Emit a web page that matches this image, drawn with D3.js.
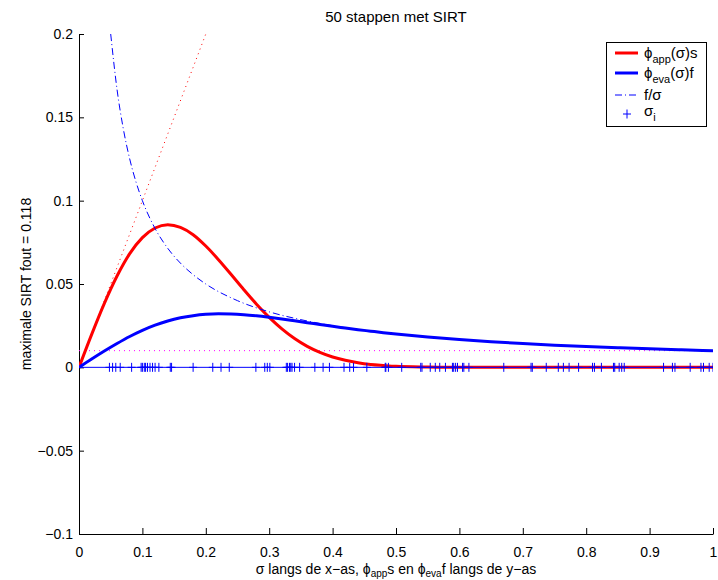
<!DOCTYPE html>
<html>
<head>
<meta charset="utf-8">
<script src="https://cdnjs.cloudflare.com/ajax/libs/d3/7.8.5/d3.min.js"></script>
<style>
body { margin: 0; background: #fff; }
text { font-family: "Liberation Sans", Arial, Helvetica, sans-serif; }
</style>
</head>
<body>
<script>
// values
var sigmaGrid = [0, 0.02, 0.04, 0.06, 0.08, 0.10, 0.12, 0.14, 0.16, 0.18, 0.20, 0.22, 0.24, 0.26, 0.28, 0.30,
                 0.32, 0.34, 0.36, 0.38, 0.40, 0.42, 0.44, 0.46, 0.48, 0.50, 0.55, 0.60, 0.65, 0.70, 0.75,
                 0.80, 0.85, 0.90, 0.95, 1.00];
var phiAppS = [0, 0.0198, 0.0384, 0.0548, 0.0682, 0.0778, 0.0836, 0.0856, 0.0840, 0.0796, 0.0728, 0.0646,
               0.0557, 0.0466, 0.0379, 0.0300, 0.0231, 0.0173, 0.0126, 0.0090, 0.0062, 0.0042, 0.0027,
               0.0017, 0.0011, 0.0006, 0.0002, 0, 0, 0, 0, 0, 0, 0, 0, 0];
var phiEvaF = [0, 0.0050, 0.0098, 0.0143, 0.0185, 0.0222, 0.0253, 0.0278, 0.0297, 0.0310, 0.0318, 0.0321,
               0.0320, 0.0316, 0.0309, 0.0300, 0.0290, 0.0279, 0.0268, 0.0257, 0.0246, 0.0236, 0.0226,
               0.0217, 0.0208, 0.0200, 0.0182, 0.0167, 0.0154, 0.0143, 0.0133, 0.0125, 0.0118, 0.0111,
               0.0105, 0.0100];
var fSigmaX = [0.05, 0.06, 0.07, 0.08, 0.09, 0.10, 0.12, 0.14, 0.16, 0.18, 0.20, 0.25, 0.30, 0.35, 0.40,
               0.50, 0.60, 0.70, 0.80, 0.90, 1.00];
var fSigmaY = [0.200, 0.1667, 0.1429, 0.125, 0.1111, 0.100, 0.0833, 0.0714, 0.0625, 0.0556, 0.050, 0.040,
               0.0333, 0.0286, 0.025, 0.020, 0.0167, 0.0143, 0.0125, 0.0111, 0.010];
var sLineX = [0, 0.1, 0.2];
var sLineY = [0, 0.1, 0.2];
var noiseX = [0, 1];
var noiseY = [0.01, 0.01];
var sigmaI = [0.048, 0.053, 0.058, 0.065, 0.083, 0.098, 0.100, 0.103, 0.105, 0.108, 0.112, 0.116, 0.120,
              0.126, 0.144, 0.146, 0.180, 0.211, 0.224, 0.237, 0.279, 0.293, 0.297, 0.301, 0.327, 0.329,
              0.332, 0.334, 0.336, 0.340, 0.348, 0.372, 0.385, 0.395, 0.418, 0.427, 0.433, 0.454, 0.483,
              0.484, 0.488, 0.509, 0.539, 0.541, 0.554, 0.562, 0.569, 0.578, 0.589, 0.591, 0.594, 0.597,
              0.605, 0.607, 0.615, 0.670, 0.713, 0.715, 0.737, 0.756, 0.764, 0.773, 0.788, 0.810, 0.813,
              0.824, 0.843, 0.845, 0.852, 0.856, 0.860, 0.922, 0.936, 0.940, 0.964, 0.981, 0.985, 0.994, 1.000];
var xTicks = [0, 0.1, 0.2, 0.3, 0.4, 0.5, 0.6, 0.7, 0.8, 0.9, 1];
var yTicks = [-0.1, -0.05, 0, 0.05, 0.1, 0.15, 0.2];

var width = 718;
var height = 580;
var margin = {top: 34, left: 79, right: 5, bottom: 46};

var svg = d3.select("body")
        .append("svg")
        .attr("width", width)
        .attr("height", height);

var xScale = d3.scaleLinear()
           .domain([0, 1])
           .range([margin.left, width - margin.right]);

var yScale = d3.scaleLinear()
           .domain([-0.1, 0.2])
           .range([height - margin.bottom, margin.top]);

svg.append("clipPath").attr("id", "plotArea")
   .append("rect")
   .attr("x", margin.left).attr("y", margin.top)
   .attr("width", width - margin.left - margin.right)
   .attr("height", height - margin.top - margin.bottom);

// axes, ticks pointing inwards like matlab
var xAxis = svg.append("g")
           .attr("transform", `translate(0,${height - margin.bottom})`)
           .call(d3.axisBottom(xScale).tickValues(xTicks).tickSizeInner(-6).tickSizeOuter(0)
                 .tickPadding(13).tickFormat(d3.format("")));

var yAxis = svg.append("g")
           .attr("transform", `translate(${margin.left},0)`)
           .call(d3.axisLeft(yScale).tickValues(yTicks).tickSizeInner(-5).tickSizeOuter(0)
                 .tickPadding(6).tickFormat(function(d) { return d3.format("")(d).replace("-", "\u2212"); }));

svg.selectAll("g.tick text").attr("font-size", 14).attr("fill", "#000")
   .attr("font-family", '"Liberation Sans", Arial, sans-serif');
svg.selectAll(".domain, .tick line").attr("stroke", "#000");

var plot = svg.append("g").attr("clip-path", "url(#plotArea)");

var line = d3.line()
           .x(function(d) { return xScale(d[0]); })
           .y(function(d) { return yScale(d[1]); })
           .curve(d3.curveMonotoneX);

function pairs(xs, ys) { return xs.map(function(x, i) { return [x, ys[i]]; }); }

// noise level f
plot.append("path")
    .datum(pairs(noiseX, noiseY))
    .attr("fill", "none")
    .attr("stroke", "#ff00ff")
    .attr("stroke-width", 1)
    .style("stroke-dasharray", "1, 4")
    .attr("d", line);

// s
plot.append("path")
    .datum(pairs(sLineX, sLineY))
    .attr("fill", "none")
    .attr("stroke", "#ff0000")
    .attr("stroke-width", 1)
    .style("stroke-dasharray", "1, 4")
    .attr("d", line);

plot.append("path")
    .datum(pairs(sigmaGrid, phiAppS))
    .attr("fill", "none")
    .attr("stroke", "#ff0000")
    .attr("stroke-width", 3)
    .attr("stroke-linejoin", "round")
    .attr("d", line);

plot.append("path")
    .datum(pairs(sigmaGrid, phiEvaF))
    .attr("fill", "none")
    .attr("stroke", "#0000ff")
    .attr("stroke-width", 3)
    .attr("stroke-linejoin", "round")
    .attr("d", line);

plot.append("path")
    .datum(pairs(fSigmaX, fSigmaY))
    .attr("fill", "none")
    .attr("stroke", "#0000ff")
    .attr("stroke-width", 1)
    .style("stroke-dasharray", "7, 3, 1, 3")
    .attr("d", line);

// singular values on the x axis
plot.append("line")
    .attr("x1", xScale(0)).attr("x2", xScale(1))
    .attr("y1", yScale(0)).attr("y2", yScale(0))
    .attr("stroke", "#0000ff").attr("stroke-width", 1);

var plus = "M-4,0H4M0,-4.5V4.5";
plot.selectAll(".sig")
    .data(sigmaI)
    .enter().append("path")
    .attr("class", "sig")
    .attr("transform", function(d) { return `translate(${xScale(d)},${yScale(0)})`; })
    .attr("d", plus)
    .attr("fill", "none")
    .attr("stroke", "#0000ff")
    .attr("stroke-width", 1);

// title and labels
svg.append("text")
   .attr("x", (margin.left + width - margin.right) / 2)
   .attr("y", 22)
   .attr("text-anchor", "middle")
   .style("font-size", "15px")
   .text("50 stappen met SIRT");

svg.append("text")
   .attr("transform", "rotate(-90)")
   .attr("x", -(margin.top + height - margin.bottom) / 2)
   .attr("y", 31)
   .attr("text-anchor", "middle")
   .style("font-size", "14px")
   .text("maximale SIRT fout = 0.118");

var xLabel = svg.append("text")
   .attr("x", (margin.left + width - margin.right) / 2)
   .attr("y", 574)
   .attr("text-anchor", "middle")
   .style("font-size", "14px");
xLabel.append("tspan").text("\u03c3 langs de x\u2212as, \u03d5");
xLabel.append("tspan").attr("dy", 3).style("font-size", "10px").text("app");
xLabel.append("tspan").attr("dy", -3).text("s en \u03d5");
xLabel.append("tspan").attr("dy", 3).style("font-size", "10px").text("eva");
xLabel.append("tspan").attr("dy", -3).text("f langs de y\u2212as");

// legend
var legend = svg.append("g");
legend.append("rect")
      .attr("x", 606.5).attr("y", 42.5)
      .attr("width", 100).attr("height", 84)
      .attr("fill", "#fff").attr("stroke", "#000").attr("stroke-width", 1);

var legendRows = [
  {y: 53, base: 58, color: "#ff0000", w: 3, dash: null, main: "\u03d5", sub: "app", tail: "(\u03c3)s"},
  {y: 73, base: 78, color: "#0000ff", w: 3, dash: null, main: "\u03d5", sub: "eva", tail: "(\u03c3)f"},
  {y: 95, base: 100, color: "#0000ff", w: 1, dash: "7, 3, 1, 3", main: "f/\u03c3", sub: "", tail: ""},
  {y: 114, base: 116, color: "#0000ff", w: 1, dash: "marker", main: "\u03c3", sub: "i", tail: ""}
];

legendRows.forEach(function(r) {
  if (r.dash === "marker") {
    legend.append("path")
          .attr("transform", `translate(627,${r.y})`)
          .attr("d", plus).attr("fill", "none")
          .attr("stroke", r.color).attr("stroke-width", 1);
  } else {
    legend.append("line")
          .attr("x1", 615).attr("x2", 638)
          .attr("y1", r.y).attr("y2", r.y)
          .attr("stroke", r.color).attr("stroke-width", r.w)
          .style("stroke-dasharray", r.dash);
  }
  var t = legend.append("text").attr("x", 644).attr("y", r.base).style("font-size", "15px");
  t.append("tspan").text(r.main);
  if (r.sub) t.append("tspan").attr("dy", 5).style("font-size", "11px").text(r.sub);
  if (r.tail) t.append("tspan").attr("dy", -5).text(r.tail);
});
</script>
</body>
</html>
